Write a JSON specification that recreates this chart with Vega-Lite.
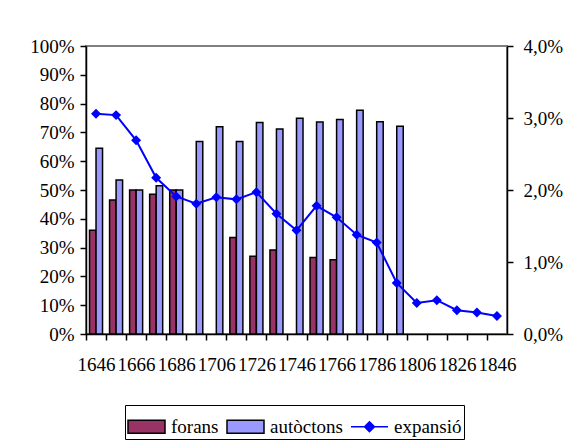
{
  "$schema": "https://vega.github.io/schema/vega-lite/v6.json",
  "width": 421,
  "height": 288,
  "autosize": {"type": "none"},
  "padding": {"left": 86, "top": 46, "right": 66, "bottom": 109},
  "background": "white",
  "config": {
    "font": "Liberation Serif",
    "view": {"stroke": "#808080", "strokeWidth": 2},
    "axis": {
      "labelFont": "Liberation Serif",
      "labelFontSize": 19,
      "labelColor": "black",
      "domainColor": "black",
      "tickColor": "black",
      "grid": false,
      "title": null,
      "domainWidth": 1.5,
      "tickWidth": 1.5,
      "tickSize": 6
    },
    "legend": {
      "labelFont": "Liberation Serif",
      "labelFontSize": 19,
      "labelColor": "black",
      "strokeColor": "black",
      "fillColor": "white",
      "padding": 2,
      "symbolSize": 1369,
      "symbolStrokeWidth": 1.5,
      "labelOffset": 5,
      "columnPadding": 5,
      "labelLimit": 200
    }
  },
  "datasets": {
    "bars": [
      {"year": 1646, "serie": "forans", "value": 36},
      {"year": 1646, "serie": "autòctons", "value": 64.5},
      {"year": 1656, "serie": "forans", "value": 46.5},
      {"year": 1656, "serie": "autòctons", "value": 53.5},
      {"year": 1666, "serie": "forans", "value": 50},
      {"year": 1666, "serie": "autòctons", "value": 50},
      {"year": 1676, "serie": "forans", "value": 48.5},
      {"year": 1676, "serie": "autòctons", "value": 51.5},
      {"year": 1686, "serie": "forans", "value": 50},
      {"year": 1686, "serie": "autòctons", "value": 50},
      {"year": 1696, "serie": "autòctons", "value": 66.8},
      {"year": 1706, "serie": "autòctons", "value": 72},
      {"year": 1716, "serie": "forans", "value": 33.5},
      {"year": 1716, "serie": "autòctons", "value": 66.8},
      {"year": 1726, "serie": "forans", "value": 27},
      {"year": 1726, "serie": "autòctons", "value": 73.4},
      {"year": 1736, "serie": "forans", "value": 29.2},
      {"year": 1736, "serie": "autòctons", "value": 71.2},
      {"year": 1746, "serie": "autòctons", "value": 74.9},
      {"year": 1756, "serie": "forans", "value": 26.6},
      {"year": 1756, "serie": "autòctons", "value": 73.6},
      {"year": 1766, "serie": "forans", "value": 25.8},
      {"year": 1766, "serie": "autòctons", "value": 74.5},
      {"year": 1776, "serie": "autòctons", "value": 77.7},
      {"year": 1786, "serie": "autòctons", "value": 73.7},
      {"year": 1796, "serie": "autòctons", "value": 72.1}
    ],
    "exp": [
      {"year": 1646, "serie": "expansió", "exp": 3.06},
      {"year": 1656, "serie": "expansió", "exp": 3.04},
      {"year": 1666, "serie": "expansió", "exp": 2.69},
      {"year": 1676, "serie": "expansió", "exp": 2.17},
      {"year": 1686, "serie": "expansió", "exp": 1.91},
      {"year": 1696, "serie": "expansió", "exp": 1.81},
      {"year": 1706, "serie": "expansió", "exp": 1.9},
      {"year": 1716, "serie": "expansió", "exp": 1.87},
      {"year": 1726, "serie": "expansió", "exp": 1.97},
      {"year": 1736, "serie": "expansió", "exp": 1.67},
      {"year": 1746, "serie": "expansió", "exp": 1.44},
      {"year": 1756, "serie": "expansió", "exp": 1.78},
      {"year": 1766, "serie": "expansió", "exp": 1.62},
      {"year": 1776, "serie": "expansió", "exp": 1.38},
      {"year": 1786, "serie": "expansió", "exp": 1.27},
      {"year": 1796, "serie": "expansió", "exp": 0.71},
      {"year": 1806, "serie": "expansió", "exp": 0.43},
      {"year": 1816, "serie": "expansió", "exp": 0.47},
      {"year": 1826, "serie": "expansió", "exp": 0.33},
      {"year": 1836, "serie": "expansió", "exp": 0.3},
      {"year": 1846, "serie": "expansió", "exp": 0.25}
    ]
  },
  "layer": [
    {
      "data": {"name": "bars"},
      "mark": {"type": "bar", "strokeWidth": 1.5},
      "encoding": {
        "x": {
          "field": "year",
          "type": "ordinal",
          "scale": {"paddingInner": 0.35, "paddingOuter": 0.175},
          "axis": {
            "labelExpr": "(datum.value - 1646) % 20 == 0 ? datum.label : ''",
            "tickOffset": -10,
            "labelOffset": 10,
            "labelAngle": 0,
            "labelPadding": 15,
            "labelOverlap": false,
            "labelBound": false
          }
        },
        "xOffset": {"field": "serie", "type": "nominal", "scale": {"domain": ["forans", "autòctons"]}},
        "y": {
          "field": "value",
          "type": "quantitative",
          "scale": {"domain": [0, 100]},
          "axis": {"orient": "left", "values": [0, 10, 20, 30, 40, 50, 60, 70, 80, 90, 100], "labelExpr": "datum.value + '%'", "labelPadding": 6}
        },
        "fill": {
          "field": "serie",
          "type": "nominal",
          "scale": {"domain": ["forans", "autòctons", "expansió"], "range": ["#993366", "#9999FF", "#0000FF"]},
          "legend": {"orient": "none", "legendX": 39, "legendY": 359, "direction": "horizontal", "columns": 3, "title": null}
        },
        "stroke": {
          "field": "serie",
          "type": "nominal",
          "scale": {"domain": ["forans", "autòctons", "expansió"], "range": ["#000000", "#000000", "#0000FF"]},
          "legend": {"orient": "none", "legendX": 39, "legendY": 359, "direction": "horizontal", "columns": 3, "title": null}
        }
      }
    },
    {
      "data": {"name": "exp"},
      "encoding": {
        "x": {"field": "year", "type": "ordinal"},
        "y": {
          "field": "exp",
          "type": "quantitative",
          "scale": {"domain": [0, 4]},
          "axis": {"orient": "right", "values": [0, 1, 2, 3, 4], "labelExpr": "replace(format(datum.value, '.1f'), '.', ',') + '%'", "labelPadding": 10}
        }
      },
      "layer": [
        {
          "mark": {"type": "line", "color": "#0000FF", "strokeWidth": 2}
        },
        {
          "mark": {"type": "point", "filled": true, "size": 1369, "opacity": 1},
          "encoding": {
            "fill": {
              "field": "serie",
              "type": "nominal",
              "scale": {"domain": ["forans", "autòctons", "expansió"], "range": ["#993366", "#9999FF", "#0000FF"]},
              "legend": {"orient": "none", "legendX": 39, "legendY": 359, "direction": "horizontal", "columns": 3, "title": null}
            },
            "shape": {
              "field": "serie",
              "type": "nominal",
              "scale": {"domain": ["forans", "autòctons", "expansió"], "range": ["M-1,-0.35H1V0.35H-1Z", "M-1,-0.35H1V0.35H-1Z", "M-1,0H1M0,-0.27L0.27,0L0,0.27L-0.27,0Z"]},
              "legend": {"orient": "none", "legendX": 39, "legendY": 359, "direction": "horizontal", "columns": 3, "title": null}
            }
          }
        }
      ]
    }
  ],
  "resolve": {"scale": {"y": "independent"}}
}
